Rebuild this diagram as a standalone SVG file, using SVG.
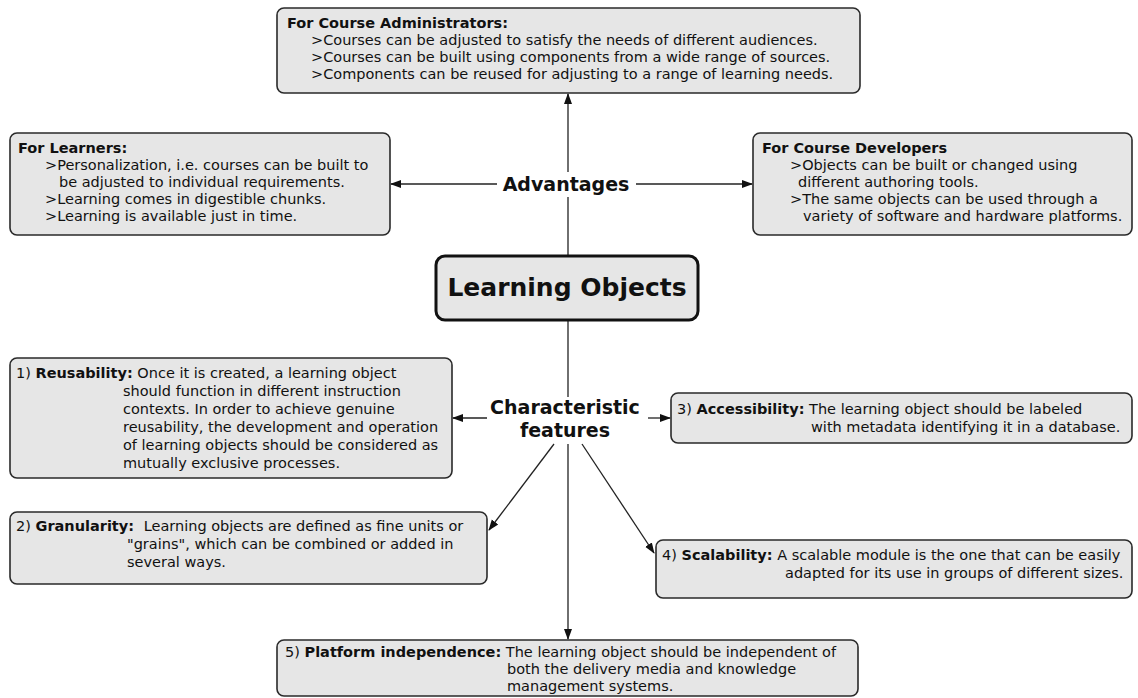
<svg xmlns="http://www.w3.org/2000/svg" width="1138" height="698" viewBox="0 0 1138 698">
  <style>
    .box { fill: #e6e6e6; stroke: #2a2a2a; stroke-width: 1.6; }
    .core { fill: #e6e6e6; stroke: #111; stroke-width: 3; }
    text { font-family: "DejaVu Sans", Verdana, sans-serif; fill: #111; }
    .t { font-size: 14.5px; }
    .h { font-size: 14.5px; font-weight: bold; }
    .b { font-weight: bold; }
    .lbl { font-size: 19px; font-weight: bold; text-anchor: middle; }
    .title { font-size: 25px; font-weight: bold; text-anchor: middle; }
    .wire { stroke: #222; stroke-width: 1.3; fill: none; }
    .arr { marker-end: url(#head); }
  </style>
  <defs>
    <marker id="head" markerUnits="userSpaceOnUse" markerWidth="11" markerHeight="11" viewBox="0 0 11 10" refX="10" refY="5" orient="auto">
      <path d="M0,1 L11,5 L0,9 Z" fill="#111"/>
    </marker>
  </defs>

  <rect width="1138" height="698" fill="#ffffff"/>

  <!-- connectors -->
  <g id="connectors">
    <!-- Advantages hub -->
    <line class="wire arr" x1="568" y1="172" x2="568" y2="94"/>
    <line class="wire" x1="568" y1="197" x2="568" y2="256"/>
    <line class="wire arr" x1="497" y1="184" x2="391" y2="184"/>
    <line class="wire arr" x1="636" y1="184" x2="752" y2="184"/>
    <!-- Characteristic features hub -->
    <line class="wire" x1="568" y1="320" x2="568" y2="397"/>
    <line class="wire arr" x1="487" y1="418" x2="453" y2="418"/>
    <line class="wire arr" x1="648" y1="418" x2="670" y2="418"/>
    <line class="wire arr" x1="554" y1="444" x2="489" y2="530"/>
    <line class="wire arr" x1="582" y1="444" x2="654" y2="553"/>
    <line class="wire arr" x1="568" y1="444" x2="568" y2="639"/>
  </g>

  <!-- hub labels -->
  <g id="advantages">
    <text class="lbl" x="566" y="191">Advantages</text>
  </g>
  <g id="characteristic-features">
    <text class="lbl" x="565" y="414">Characteristic</text>
    <text class="lbl" x="565" y="437">features</text>
  </g>

  <!-- central node -->
  <g id="learning-objects">
    <rect class="core" x="436" y="256" width="262" height="64" rx="9"/>
    <text class="title" x="567" y="296">Learning Objects</text>
  </g>

  <g id="course-administrators">
    <rect class="box" x="277" y="8" width="583" height="85" rx="7"/>
    <text class="h" x="287" y="28">For Course Administrators:</text>
    <text class="t" x="311" y="45">&gt;Courses can be adjusted to satisfy the needs of different audiences.</text>
    <text class="t" x="311" y="62">&gt;Courses can be built using components from a wide range of sources.</text>
    <text class="t" x="311" y="79">&gt;Components can be reused for adjusting to a range of learning needs.</text>
  </g>

  <g id="learners">
    <rect class="box" x="10" y="133" width="380" height="102" rx="7"/>
    <text class="h" x="18" y="153">For Learners:</text>
    <text class="t" x="45" y="170">&gt;Personalization, i.e. courses can be built to</text>
    <text class="t" x="59" y="187">be adjusted to individual requirements.</text>
    <text class="t" x="45" y="204">&gt;Learning comes in digestible chunks.</text>
    <text class="t" x="45" y="221">&gt;Learning is available just in time.</text>
  </g>

  <g id="course-developers">
    <rect class="box" x="753" y="133" width="379" height="102" rx="7"/>
    <text class="h" x="762" y="153">For Course Developers</text>
    <text class="t" x="790" y="170">&gt;Objects can be built or changed using</text>
    <text class="t" x="798" y="187">different authoring tools.</text>
    <text class="t" x="790" y="204">&gt;The same objects can be used through a</text>
    <text class="t" x="803" y="221">variety of software and hardware platforms.</text>
  </g>

  <g id="reusability">
    <rect class="box" x="10" y="358" width="442" height="120" rx="7"/>
    <text class="t" x="16" y="378">1) <tspan class="b">Reusability:</tspan> Once it is created, a learning object</text>
    <text class="t" x="123" y="396">should function in different instruction</text>
    <text class="t" x="123" y="414">contexts. In order to achieve genuine</text>
    <text class="t" x="123" y="432">reusability, the development and operation</text>
    <text class="t" x="123" y="450">of learning objects should be considered as</text>
    <text class="t" x="123" y="468">mutually exclusive processes.</text>
  </g>

  <g id="accessibility">
    <rect class="box" x="671" y="393" width="461" height="50" rx="7"/>
    <text class="t" x="677" y="414">3) <tspan class="b">Accessibility:</tspan> The learning object should be labeled</text>
    <text class="t" x="811" y="432">with metadata identifying it in a database.</text>
  </g>

  <g id="granularity">
    <rect class="box" x="10" y="512" width="477" height="72" rx="7"/>
    <text class="t" x="16" y="531">2) <tspan class="b">Granularity:</tspan> <tspan dx="5">Learning objects are defined as fine units or</tspan></text>
    <text class="t" x="127" y="549">"grains", which can be combined or added in</text>
    <text class="t" x="127" y="567">several ways.</text>
  </g>

  <g id="scalability">
    <rect class="box" x="656" y="540" width="476" height="58" rx="7"/>
    <text class="t" x="662" y="560">4) <tspan class="b">Scalability:</tspan> A scalable module is the one that can be easily</text>
    <text class="t" x="785" y="578">adapted for its use in groups of different sizes.</text>
  </g>

  <g id="platform-independence">
    <rect class="box" x="277" y="640" width="581" height="56" rx="7"/>
    <text class="t" x="285" y="657">5) <tspan class="b">Platform independence:</tspan> The learning object should be independent of</text>
    <text class="t" x="507" y="674">both the delivery media and knowledge</text>
    <text class="t" x="507" y="691">management systems.</text>
  </g>
</svg>
